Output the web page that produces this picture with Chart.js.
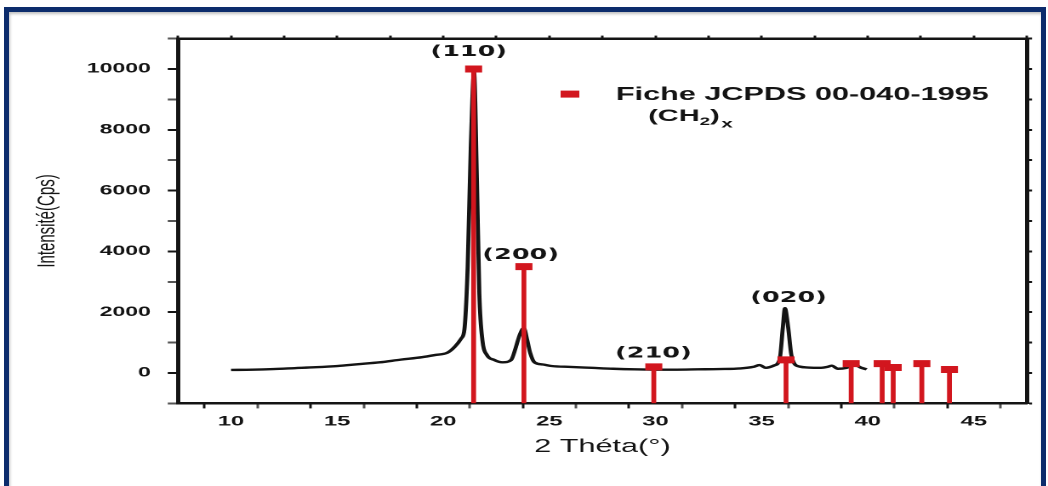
<!DOCTYPE html>
<html>
<head>
<meta charset="utf-8">
<script src="https://cdn.jsdelivr.net/npm/chart.js@4.4.1/dist/chart.umd.min.js"></script>
<style>
  html, body { margin: 0; padding: 0; background: #fff; overflow: hidden; }
  #plot { position: absolute; left: 0; top: 0; width: 616px; height: 486px; transform: scaleX(1.7013); transform-origin: 0 0; }
  #frame { position: absolute; left: 4px; top: 7px; width: 1032px; height: 530px; border: 5px solid #0c2c6c; box-shadow: inset 1px 2px 3px rgba(0,0,0,0.25); pointer-events: none; }
</style>
</head>
<body>
<div id="plot"><canvas id="xrd"></canvas></div>
<div id="frame"></div>
<script>
// measured pattern
const twoTheta = [10, 11, 12, 13, 14, 15, 16, 17, 18, 19, 19.6, 20.2, 20.55, 20.85, 21.0,
  21.15, 21.3, 21.45, 21.58, 21.7, 21.85, 22.05, 22.4, 22.8, 23.2, 23.4, 23.6, 23.8, 23.95, 24.1,
  24.3, 24.7, 25.1, 26, 27, 28, 29, 30, 31, 32, 33, 34, 34.6, 34.9, 35.2,
  35.6, 35.85, 36.0, 36.1, 36.25, 36.4, 36.55, 36.8, 37.2, 37.8, 38.1, 38.3, 38.6, 39.0, 39.4,
  39.7, 39.95];
const intensity = [100, 110, 130, 160, 190, 230, 290, 350, 440, 520, 590, 670, 870, 1140, 1450,
  3500, 7500, 9900, 6500, 2600, 1050, 600, 430, 350, 430, 800, 1250, 1480, 1100, 650,
  350, 280, 230, 200, 170, 140, 120, 110, 110, 120, 130, 150, 200, 260, 170,
  250, 450, 1500, 2130, 1500, 600, 300, 210, 180, 170, 200, 240, 140, 170, 260,
  170, 120];

// JCPDS 00-040-1995 reference lines
const refTheta = [21.43, 23.8, 29.92, 36.15, 39.22, 40.68, 41.2, 42.55, 43.85];
const refIntensity = [10000, 3500, 200, 430, 310, 310, 180, 310, 115];

// (hkl) annotations
const hklLabels = ['(110)', '(200)', '(210)', '(020)'];
const hklTheta = [21.2, 23.65, 29.9, 36.27];
const hklIntensity = [10550, 3880, 630, 2470];

const legendLines = ['Fiche JCPDS 00-040-1995', '(CH', '2', ')', 'x'];

const RED = '#d2161e';
const INK = '#141414';

Chart.defaults.font.family = '"Liberation Sans", Arial, sans-serif';
Chart.defaults.color = INK;

const annotate = {
  id: 'annotate',
  afterDatasetsDraw(chart) {
    const {ctx, chartArea} = chart;
    const x = chart.scales.x, y = chart.scales.y;
    ctx.save();
    ctx.fillStyle = INK;
    ctx.textAlign = 'center';
    ctx.textBaseline = 'middle';
    ctx.font = 'bold 15px "DejaVu Sans"';
    hklLabels.forEach((t, i) => {
      ctx.fillText(t, x.getPixelForValue(hklTheta[i]), y.getPixelForValue(hklIntensity[i]));
    });

    // legend box inside the plot
    const lx = chartArea.left + 230.4;
    const ly = chartArea.top + 55.5;
    ctx.fillStyle = RED;
    ctx.fillRect(lx - 5.5, ly - 3.5, 11, 7);
    ctx.fillStyle = INK;
    ctx.textAlign = 'left';
    ctx.font = 'bold 18px "Liberation Sans"';
    ctx.fillText(legendLines[0], lx + 27, ly + 1);
    let cx = lx + 46;
    const cy = ly + 22;
    ctx.font = 'bold 17px "Liberation Sans"';
    ctx.fillText(legendLines[1], cx, cy);
    cx += ctx.measureText(legendLines[1]).width;
    ctx.font = 'bold 11px "Liberation Sans"';
    ctx.fillText(legendLines[2], cx, cy + 6);
    cx += ctx.measureText(legendLines[2]).width;
    ctx.font = 'bold 17px "Liberation Sans"';
    ctx.fillText(legendLines[3], cx, cy);
    cx += ctx.measureText(legendLines[3]).width + 1;
    ctx.font = 'bold 12px "Liberation Sans"';
    ctx.fillText(legendLines[4], cx, cy + 8);
    ctx.restore();
  }
};

const tickCol = ctx => ctx.tick && ctx.tick.label === '' ? '#555' : INK;

new Chart(document.getElementById('xrd'), {
  type: 'line',
  data: {
    datasets: [
      {
        data: twoTheta.map((t, i) => ({x: t, y: intensity[i]})),
        borderColor: INK,
        borderWidth: 2.4,
        pointRadius: 0,
        cubicInterpolationMode: 'monotone',
        order: 3
      },
      {
        type: 'bar',
        data: refTheta.map((t, i) => ({x: t, y: refIntensity[i]})),
        backgroundColor: RED,
        barThickness: 2.2,
        base: -1000,
        order: 2
      },
      {
        data: refTheta.map((t, i) => ({x: t, y: refIntensity[i]})),
        showLine: false,
        pointStyle: 'line',
        pointRadius: 5,
        pointBorderWidth: 7,
        pointBorderColor: RED,
        pointBackgroundColor: RED,
        order: 1
      }
    ]
  },
  options: {
    responsive: true,
    maintainAspectRatio: false,
    devicePixelRatio: 2,
    animation: false,
    layout: {padding: 0},
    plugins: {legend: {display: false}, tooltip: {enabled: false}},
    scales: {
      x: {
        type: 'linear',
        position: 'bottom',
        min: 7.5, max: 47.5,
        offset: false,
        afterFit: s => { s.height = 82.6; },
        ticks: {
          stepSize: 2.5, autoSkip: false, maxRotation: 0, padding: 5,
          font: {size: 14, weight: 'bold'},
          callback: v => Math.abs(v % 5) < 1e-6 ? String(v) : ''
        },
        grid: {drawOnChartArea: false, tickLength: 5, tickWidth: 1.5, tickColor: tickCol},
        border: {display: true, width: 2.5, color: INK},
        title: {display: true, text: '2 Théta(°)', font: {size: 18}, padding: {top: 0, bottom: 28}}
      },
      x2: {
        type: 'linear',
        position: 'top',
        display: true,
        min: 7.5, max: 47.5,
        afterFit: s => { s.height = 38.6; },
        ticks: {display: false, stepSize: 2.5},
        grid: {drawOnChartArea: false, tickLength: 3, tickWidth: 1.5, tickColor: INK},
        border: {display: true, width: 2.5, color: INK}
      },
      y: {
        type: 'linear',
        position: 'left',
        min: -1000, max: 11000,
        afterFit: s => { s.width = 104.6; },
        ticks: {
          stepSize: 1000, padding: 10,
          font: {size: 13.5, weight: 'bold'},
          callback: v => v % 2000 === 0 ? String(v) : ''
        },
        grid: {drawOnChartArea: false, tickLength: 6, tickWidth: 2, tickColor: tickCol},
        border: {display: true, width: 2.5, color: INK},
        title: {display: true, text: 'Intensité(Cps)', font: {size: 15}, padding: {top: 19, bottom: 0}}
      },
      y2: {
        type: 'linear',
        position: 'right',
        display: true,
        min: -1000, max: 11000,
        afterFit: s => { s.width = 12.4; },
        ticks: {display: false, stepSize: 1000},
        grid: {drawOnChartArea: false, tickLength: 3, tickWidth: 2, tickColor: INK},
        border: {display: true, width: 2.5, color: INK}
      }
    }
  },
  plugins: [annotate]
});
</script>
</body>
</html>
